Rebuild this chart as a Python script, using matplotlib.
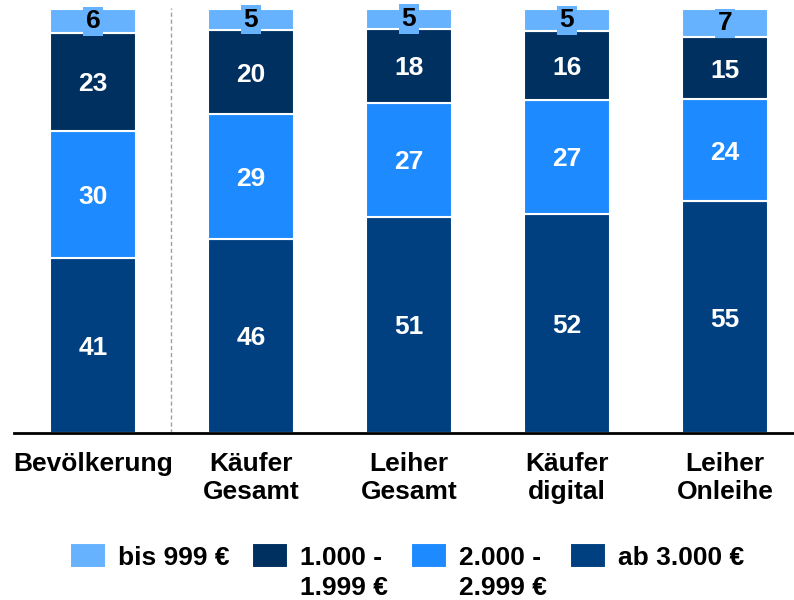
import matplotlib
matplotlib.use("Agg")
import matplotlib.pyplot as plt
import numpy as np

plt.rcParams['font.family'] = ['Liberation Sans', 'DejaVu Sans']
plt.rcParams['font.weight'] = 'bold'

categories = ["Bevölkerung", "Käufer\nGesamt", "Leiher\nGesamt", "Käufer\ndigital", "Leiher\nOnleihe"]
series_names = ["bis 999 €", "1.000 -\n1.999 €", "2.000 -\n2.999 €", "ab 3.000 €"]
ab_3000 = [41.4, 45.9, 51.0, 51.7, 54.7]
v_2000_2999 = [29.9, 29.4, 26.9, 26.9, 24.1]
v_1000_1999 = [23.1, 19.8, 17.5, 16.2, 14.6]
bis_999 = [5.6, 4.9, 4.6, 5.2, 6.6]

colors = {
    "bis": "#66B2FF",
    "1000": "#00305F",
    "2000": "#1E8AFF",
    "3000": "#003F80",
}

W, H = 794, 600
fig = plt.figure(figsize=(W/100, H/100), dpi=100)
ax = fig.add_axes([14/W, 1-433/H, 780/W, (433-9.3)/H])

x = np.arange(len(categories))
w = 0.544
fs = 19

stack = [
    (ab_3000, colors["3000"], series_names[3], 'white'),
    (v_2000_2999, colors["2000"], series_names[2], 'white'),
    (v_1000_1999, colors["1000"], series_names[1], 'white'),
    (bis_999, colors["bis"], series_names[0], 'black'),
]
bottom = np.zeros(len(categories))
handles = {}
for vals, col, name, tcol in stack:
    vals = np.array(vals, dtype=float)
    bars = ax.bar(x, vals, w, bottom=bottom, color=col, edgecolor='white',
                  linewidth=1.5, label=name, clip_on=False)
    handles[name] = bars
    for xi, b, v in zip(x, bottom, vals):
        kw = {}
        va = 'center_baseline'
        if tcol == 'black':
            kw['bbox'] = dict(boxstyle='square,pad=0.1', facecolor=col, edgecolor='none')
            va = 'center'
        ax.text(xi, b + v/2, f"{v:.0f}", ha='center', va=va, color=tcol,
                fontsize=fs, fontweight='bold', clip_on=False, **kw)
    bottom += vals

ax.plot([0.494, 0.494], [0, 100.3], color='#A0A0A0', linestyle=(0, (3, 2)),
        linewidth=1, clip_on=False)

ax.set_xlim(-0.5, (794-93)/158)
ax.set_ylim(0, 100)
ax.set_xticks(x)
ax.set_xticklabels(categories, fontsize=fs, fontweight='bold')
ax.tick_params(axis='x', length=0, pad=14)
ax.set_yticks([])
for s in ['top', 'right', 'left']:
    ax.spines[s].set_visible(False)
ax.spines['bottom'].set_linewidth(2)
ax.patch.set_alpha(0)

# legend: one entry per legend, placed like the reference
handle_x = [70, 252, 411, 570]
legends = []
for name, hx in zip(series_names, handle_x):
    first = name.split("\n")[0]
    leg = fig.legend([handles[name]], [first], loc='upper left',
                     bbox_to_anchor=(hx/W, 1-543/H), frameon=False,
                     prop={'size': fs, 'weight': 'bold'},
                     handlelength=1.36, handleheight=1.1, handletextpad=0.45,
                     borderaxespad=0, borderpad=0)
    legends.append((leg, name))

fig.canvas.draw()
for leg, name in legends:
    parts = name.split("\n")
    if len(parts) > 1:
        t = leg.get_texts()[0]
        bb = t.get_window_extent()
        fig.text(bb.x0/W, (bb.y0 - 30)/H, parts[1], fontsize=fs, fontweight='bold',
                 ha='left', va='bottom')

fig.savefig("out.png", dpi=100)
